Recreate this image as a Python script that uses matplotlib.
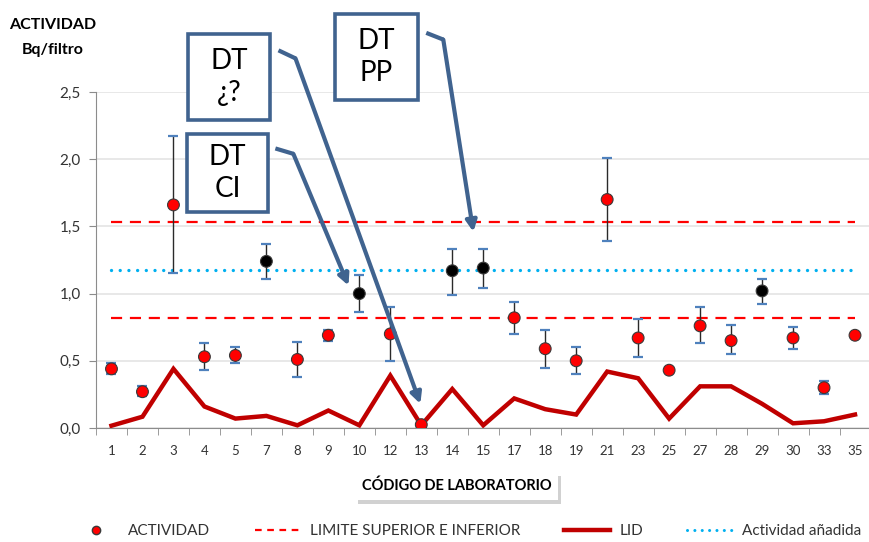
"""Actividad por laboratorio con límites, LID y actividad añadida."""

import numpy as np
import matplotlib
matplotlib.use('Agg')
import matplotlib.pyplot as plt
from matplotlib.patches import Rectangle
from matplotlib import patheffects as pe

plt.rcParams['font.family'] = ['Lato', 'DejaVu Sans']

labs = ['1', '2', '3', '4', '5', '7', '8', '9', '10', '12', '13', '14', '15',
        '17', '18', '19', '21', '23', '25', '27', '28', '29', '30', '33', '35']
actividad = [0.44, 0.27, 1.66, 0.53, 0.54, 1.24, 0.51, 0.69, 1.00, 0.70, 0.025,
             1.17, 1.19, 0.82, 0.59, 0.50, 1.70, 0.67, 0.43, 0.76, 0.65, 1.02,
             0.67, 0.30, 0.69]
act_lo = [0.40, 0.24, 1.15, 0.43, 0.48, 1.11, 0.38, 0.65, 0.86, 0.50, 0.025,
          0.99, 1.04, 0.70, 0.45, 0.40, 1.39, 0.53, 0.41, 0.63, 0.55, 0.92,
          0.59, 0.25, 0.67]
act_hi = [0.48, 0.31, 2.17, 0.63, 0.60, 1.37, 0.64, 0.73, 1.14, 0.90, 0.025,
          1.33, 1.33, 0.94, 0.73, 0.60, 2.01, 0.81, 0.45, 0.90, 0.77, 1.11,
          0.75, 0.35, 0.71]
lid = [0.017, 0.084, 0.44, 0.16, 0.07, 0.09, 0.02, 0.13, 0.02, 0.39, 0.02,
       0.29, 0.02, 0.22, 0.14, 0.10, 0.42, 0.37, 0.07, 0.31, 0.31, 0.18,
       0.035, 0.05, 0.10]
labs_negros = ['7', '10', '14', '15', '29']  # puntos dibujados en negro
lim_sup = 1.53
lim_inf = 0.82
act_anadida = 1.175
yticks = [0.0, 0.5, 1.0, 1.5, 2.0, 2.5]

# callouts: text, box (px), arrow path (data coords: start, bend, tip)
callouts = [
    ('DT\n¿?', (188, 34, 270, 120), [(5.39, 2.81), (5.94, 2.75), (9.97, 0.18)]),
    ('DT\nCI', (187, 134, 268, 212), [(5.29, 2.08), (5.87, 2.04), (7.65, 1.06)]),
    ('DT\nPP', (335, 14, 418, 100), [(10.16, 2.94), (10.71, 2.89), (11.68, 1.46)]),
]

W, H = 869, 542
fig = plt.figure(figsize=(W / 100, H / 100), dpi=100)
ax = fig.add_axes([96 / W, (H - 428) / H, (870.5 - 96) / W, 336 / H])

x = np.arange(len(labs))
y = np.array(actividad)
lo = np.array(act_lo)
hi = np.array(act_hi)

# grid and axes
ax.set_xlim(-0.5, len(labs) - 0.5)
ax.set_ylim(0, 2.5)
ax.set_yticks(yticks)
ax.set_yticklabels([f'{v:.1f}'.replace('.', ',') for v in yticks])
ax.yaxis.grid(True, color='#e4e4e4', linewidth=1.2)
ax.set_axisbelow(True)
for s in ['top', 'right']:
    ax.spines[s].set_visible(False)
for s in ['left', 'bottom']:
    ax.spines[s].set_color('#8c8c8c')
ax.set_xticks(x)
ax.set_xticklabels(labs)
ax.set_xticks(np.arange(len(labs) + 1) - 0.5, minor=True)
ax.tick_params(axis='x', which='major', length=0, pad=12, labelsize=9.5,
               labelcolor='#333333')
ax.tick_params(axis='x', which='minor', length=5, color='#8c8c8c')
ax.tick_params(axis='y', length=5, color='#8c8c8c', labelsize=11,
               labelcolor='#333333', pad=6)

# lines
ax.plot([x[0], x[-1]], [lim_sup, lim_sup], color='#ff0000', lw=1.6,
        dashes=(5, 3.5), zorder=2)
ax.plot([x[0], x[-1]], [lim_inf, lim_inf], color='#ff0000', lw=1.6,
        dashes=(5, 3.5), zorder=2)
ax.plot([x[0], x[-1]], [act_anadida, act_anadida], color='#00b0f0', lw=2.4,
        dashes=(0.01, 2.6), dash_capstyle='round', zorder=2)
ax.plot(x, lid, color='#c00000', lw=3.2, solid_joinstyle='miter', zorder=3)

# error bars
eb = ax.errorbar(x, y, yerr=[y - lo, hi - y], fmt='none', ecolor='#2a2a2a',
                 elinewidth=1.0, capsize=3.6, capthick=1.6, zorder=4)
for cap in eb[1]:
    cap.set_markeredgecolor('#4f81bd')
    cap.set_color('#4f81bd')

colors = ['black' if l in labs_negros else '#ff0000' for l in labs]
ax.scatter(x, y, s=72, c=colors, edgecolors='#3a3a3a', linewidths=0.8,
           zorder=5)

# callout arrows and boxes
blue = '#40638f'
for txt, (x0, y0, x1, y1), path in callouts:
    (sx, sy), (bx, by), (tx, ty) = path
    ax.plot([sx, bx], [sy, by], color=blue, lw=3, solid_capstyle='butt',
            clip_on=False, zorder=6)
    ax.annotate('', xy=(tx, ty), xytext=(bx, by), annotation_clip=False,
                arrowprops=dict(arrowstyle='-|>', color=blue, lw=3,
                                mutation_scale=16, shrinkA=0, shrinkB=0),
                zorder=6)
    fig.add_artist(Rectangle((x0 / W, 1 - y1 / H), (x1 - x0) / W,
                             (y1 - y0) / H, facecolor='white', edgecolor=blue,
                             lw=2.6, zorder=7))
    fig.text((x0 + x1) / 2 / W, 1 - (y0 + y1) / 2 / H, txt, ha='center',
             va='center', fontsize=20, linespacing=1.25, zorder=8)

# axis titles
fig.text(53 / W, 1 - 25 / H, 'ACTIVIDAD', ha='center', va='center',
         fontsize=11.5, fontweight='bold')
fig.text(53 / W, 1 - 50 / H, 'Bq/filtro', ha='center', va='center',
         fontsize=11.5, fontweight='bold')
xl = fig.text(457 / W, 1 - 486 / H, 'CÓDIGO DE LABORATORIO', ha='center',
              va='center', fontsize=10.5, fontweight='bold',
              bbox=dict(boxstyle='square,pad=0.45', facecolor='white',
                        edgecolor='none'))
xl.get_bbox_patch().set_path_effects([
    pe.SimplePatchShadow(offset=(2, -3), shadow_rgbFace='#9a9a9a', alpha=0.45),
    pe.Normal()])

# legend
h1 = plt.Line2D([], [], ls='none', marker='o', color='#ff0000',
                markeredgecolor='#3a3a3a', markersize=6)
h2 = plt.Line2D([], [], color='#ff0000', lw=1.6, dashes=(3, 2.5))
h3 = plt.Line2D([], [], color='#c00000', lw=3.2)
h4 = plt.Line2D([], [], color='#00b0f0', lw=2.2, dashes=(0.01, 2.4),
                dash_capstyle='round')
fig.legend([h1, h2, h3, h4],
           ['ACTIVIDAD', 'LIMITE SUPERIOR E INFERIOR', 'LID',
            'Actividad añadida'],
           loc='center', bbox_to_anchor=(0.538, 1 - 531 / H), ncol=4,
           frameon=False, fontsize=11, handlelength=3.0, columnspacing=2.9,
           handletextpad=0.6, labelcolor='#333333')

fig.savefig('out.png', dpi=100)
